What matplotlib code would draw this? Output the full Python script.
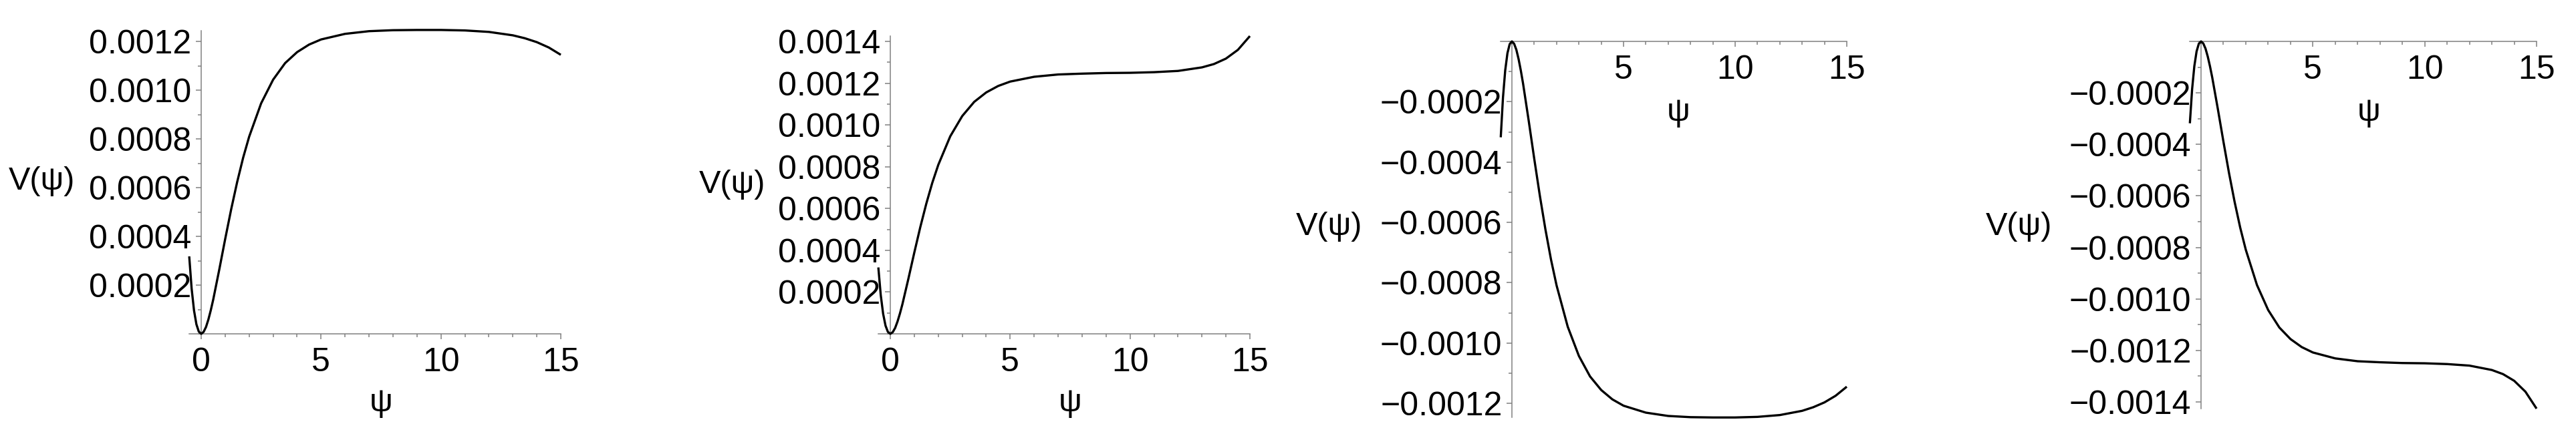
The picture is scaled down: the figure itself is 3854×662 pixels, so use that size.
import matplotlib
matplotlib.use("Agg")
import matplotlib.pyplot as plt
from matplotlib.ticker import FixedLocator, FixedFormatter, MultipleLocator

plt.rcParams['font.family'] = ['Liberation Sans', 'DejaVu Sans']

# psi samples
psi = [-0.5, -0.4, -0.3, -0.2, -0.1, 0.0, 0.1, 0.2, 0.3, 0.4, 0.5, 0.75, 1.0,
       1.25, 1.5, 1.75, 2.0, 2.5, 3.0, 3.5, 4.0, 4.5, 5.0, 6.0, 7.0, 8.0, 9.0,
       10.0, 11.0, 12.0, 13.0, 13.5, 14.0, 14.5, 15.0]

# V(psi) in units of 1e-4
v_a = [3.18, 1.86, 0.96, 0.39, 0.09, 0.0, 0.08, 0.28, 0.59, 0.97, 1.40, 2.62, 3.89,
       5.11, 6.23, 7.23, 8.09, 9.46, 10.43, 11.11, 11.56, 11.87, 12.08, 12.31, 12.42,
       12.46, 12.47, 12.47, 12.45, 12.39, 12.25, 12.13, 11.97, 11.75, 11.45]
v_b = [3.18, 1.86, 0.96, 0.39, 0.09, 0.0, 0.08, 0.28, 0.59, 0.97, 1.40, 2.62, 3.89,
       5.11, 6.23, 7.23, 8.09, 9.46, 10.43, 11.11, 11.56, 11.87, 12.08, 12.31, 12.42,
       12.46, 12.49, 12.50, 12.53, 12.59, 12.76, 12.92, 13.18, 13.60, 14.26]
v_c = [-3.18, -1.86, -0.96, -0.39, -0.09, 0.0, -0.08, -0.28, -0.59, -0.97, -1.40, -2.62, -3.89,
       -5.11, -6.23, -7.23, -8.09, -9.46, -10.43, -11.11, -11.56, -11.87, -12.08, -12.31, -12.42,
       -12.46, -12.47, -12.47, -12.45, -12.39, -12.25, -12.13, -11.97, -11.75, -11.45]
v_d = [-3.18, -1.86, -0.96, -0.39, -0.09, 0.0, -0.08, -0.28, -0.59, -0.97, -1.40, -2.62, -3.89,
       -5.11, -6.23, -7.23, -8.09, -9.46, -10.43, -11.11, -11.56, -11.87, -12.08, -12.31, -12.42,
       -12.46, -12.49, -12.50, -12.53, -12.59, -12.76, -12.92, -13.18, -13.60, -14.26]

yticks_a = [0.0002, 0.0004, 0.0006, 0.0008, 0.0010, 0.0012]
yticks_b = [0.0002, 0.0004, 0.0006, 0.0008, 0.0010, 0.0012, 0.0014]
yticks_c = [-0.0002, -0.0004, -0.0006, -0.0008, -0.0010, -0.0012]
yticks_d = [-0.0002, -0.0004, -0.0006, -0.0008, -0.0010, -0.0012, -0.0014]
xticks_pos = [0, 5, 10, 15]
xticks_neg = [5, 10, 15]

W, H = 3855, 662
AXIS_GREY = '#808080'
FS = 36


def label(v):
    s = f"{abs(v):.4f}"
    return ("\u2212" + s) if v < 0 else s


def make_panel(fig, box, ylim, vals, yticks, xticks):
    left, right, top, bottom = box
    ax = fig.add_axes([left / W, 1 - bottom / H, (right - left) / W, (bottom - top) / H])
    ax.set_xlim(-0.5, 15)
    ax.set_ylim(*ylim)
    ax.plot(psi, [v * 1e-4 for v in vals], color='black', lw=2.4, clip_on=False,
            solid_capstyle='butt', zorder=5)

    for s in ('top', 'right'):
        ax.spines[s].set_visible(False)
    for s in ('left', 'bottom'):
        ax.spines[s].set_position(('data', 0))
        ax.spines[s].set_color(AXIS_GREY)
        ax.spines[s].set_linewidth(1.1)
    ax.patch.set_visible(False)

    ax.xaxis.set_major_locator(FixedLocator(xticks))
    ax.xaxis.set_major_formatter(FixedFormatter([str(t) for t in xticks]))
    ax.xaxis.set_minor_locator(MultipleLocator(1))
    ax.yaxis.set_major_locator(FixedLocator(yticks))
    ax.yaxis.set_major_formatter(FixedFormatter([label(t) for t in yticks]))
    ax.yaxis.set_minor_locator(MultipleLocator(0.0001))

    ax.tick_params(which='both', direction='out', color=AXIS_GREY, width=1.1,
                   labelsize=FS, labelcolor='black')
    ax.tick_params(which='major', length=5.5)
    ax.tick_params(which='minor', length=3.5)
    ax.tick_params(axis='x', which='major', pad=9)
    ax.tick_params(axis='y', which='major', pad=5)
    return ax


fig = plt.figure(figsize=(W / 100, H / 100), dpi=100)

make_panel(fig, (283.1, 839, 45.6, 500), (0, 0.001245), v_a, yticks_a, xticks_pos)
make_panel(fig, (1314.1, 1870, 54.0, 500), (0, 0.001426), v_b, yticks_b, xticks_pos)
make_panel(fig, (2245.3, 2763, 62, 624.8), (-0.001246, 0), v_c, yticks_c, xticks_neg)
make_panel(fig, (3276.3, 3795, 62, 612), (-0.001426, 0), v_d, yticks_d, xticks_neg)

# axis titles, placed like the original worksheet output
ylab_pos = [(62, 272), (1095, 276), (1988, 339), (3020, 339)]
xlab_pos = [(570, 604), (1601, 604), (2511, 169), (3544, 169)]
for x, y in ylab_pos:
    fig.text(x / W, 1 - y / H, "V(\u03c8)", fontsize=35, ha='center', va='center')
for x, y in xlab_pos:
    fig.text(x / W, 1 - y / H, "\u03c8", fontsize=35, ha='center', va='center')

fig.savefig("out.png", dpi=100, facecolor='white')
plt.close(fig)
